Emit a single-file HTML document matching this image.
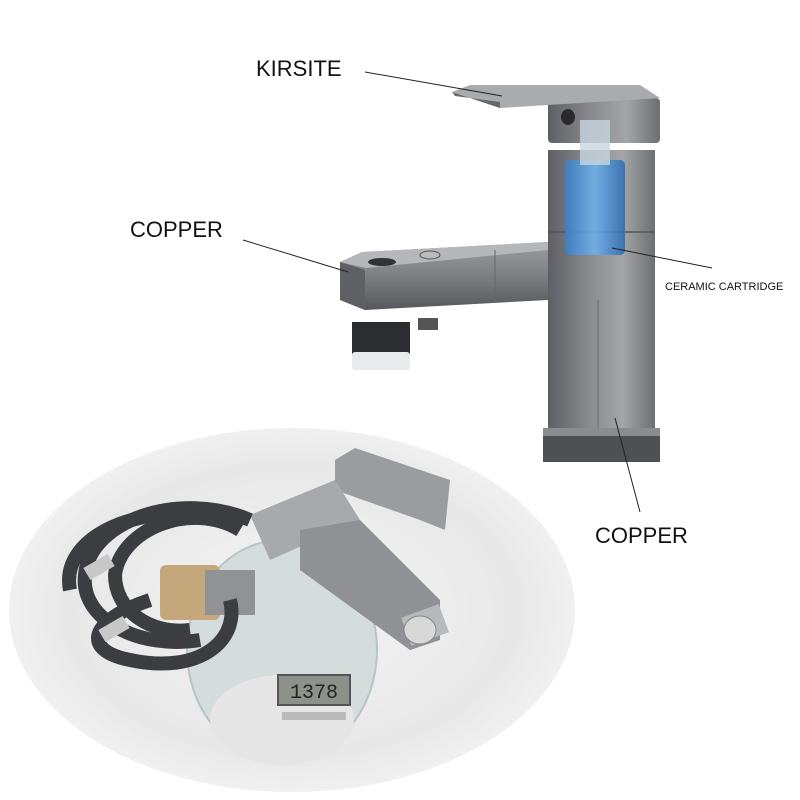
<!DOCTYPE html>
<html><head><meta charset="utf-8"><style>
html,body{margin:0;padding:0;background:#fff;width:800px;height:800px;overflow:hidden}
svg{display:block}
</style></head><body>
<svg width="800" height="800" viewBox="0 0 800 800" xmlns="http://www.w3.org/2000/svg">
<defs>
<linearGradient id="metal" x1="0" x2="1" y1="0" y2="0">
<stop offset="0" stop-color="#5d5f64"/><stop offset="0.4" stop-color="#8a8c90"/><stop offset="0.7" stop-color="#a3a5a8"/><stop offset="1" stop-color="#6c6e72"/></linearGradient>
<linearGradient id="metalv" x1="0" x2="0" y1="0" y2="1">
<stop offset="0" stop-color="#9a9ca0"/><stop offset="0.5" stop-color="#7d7f83"/><stop offset="1" stop-color="#55575b"/></linearGradient>
<radialGradient id="bg" cx="0.5" cy="0.5" r="0.5">
<stop offset="0" stop-color="#f4f4f4"/><stop offset="0.8" stop-color="#e8e8e8"/><stop offset="1" stop-color="#f0f0f0"/></radialGradient>
<linearGradient id="blue" x1="0" x2="1"><stop offset="0" stop-color="#3d7fc4"/><stop offset="0.5" stop-color="#6fb0ea"/><stop offset="1" stop-color="#2f6bb0"/></linearGradient>
</defs>
<ellipse cx="292" cy="610" rx="283" ry="182" fill="url(#bg)"/>
<ellipse cx="282" cy="650" rx="95" ry="110" fill="#d4dcdc" stroke="#b8c4c4" stroke-width="2"/>
<ellipse cx="282" cy="720" rx="72" ry="45" fill="#e6e6e6"/>
<rect x="278" y="675" width="72" height="30" fill="#8c918a" stroke="#555" stroke-width="2"/>
<text x="314" y="698" font-family="Liberation Mono,monospace" font-size="20" fill="#222" text-anchor="middle">1378</text>
<rect x="282" y="712" width="64" height="8" fill="#bbb"/>
<polygon points="335,460 355,448 450,480 445,530 420,520 335,490" fill="#9a9ca0"/>
<polygon points="250,515 335,480 360,520 270,560" fill="#a7a9ac"/>
<polygon points="300,530 360,520 440,600 440,640 410,650 300,570" fill="#8f9195"/>
<rect x="405" y="610" width="40" height="30" fill="#b8b9bb" transform="rotate(-20 425 625)"/>
<ellipse cx="420" cy="630" rx="16" ry="14" fill="#d8d8d8" stroke="#888"/>
<rect x="160" y="565" width="60" height="55" rx="6" fill="#c4a77a"/>
<rect x="205" y="570" width="50" height="45" fill="#909296"/>
<g fill="none" stroke="#3c3d40" stroke-width="14">
<path d="M250,520 C180,490 90,520 85,575 C80,620 140,650 200,640"/>
<path d="M240,530 C190,500 120,530 115,575 C115,610 150,635 190,630"/>
<path d="M150,600 C90,620 80,650 130,660 C200,675 240,640 230,600"/>
<path d="M70,590 C60,540 130,505 210,515"/>
</g>
<rect x="85" y="560" width="28" height="14" fill="#c8c8c8" transform="rotate(-30 99 567)"/>
<rect x="100" y="622" width="28" height="14" fill="#c8c8c8" transform="rotate(-30 114 629)"/>

<rect x="548" y="150" width="107" height="282" fill="url(#metal)"/>
<line x1="548" y1="232" x2="655" y2="232" stroke="#555" stroke-width="1.5"/>
<line x1="598" y1="300" x2="598" y2="430" stroke="#6a6c70" stroke-width="1"/>
<rect x="543" y="428" width="117" height="34" fill="#4e5054"/>
<rect x="543" y="428" width="117" height="8" fill="#8a8c90"/>
<rect x="548" y="98" width="112" height="45" rx="4" fill="url(#metal)"/>
<polygon points="452,92 470,85 640,85 660,98 500,108" fill="#a9abae"/>
<polygon points="452,92 500,108 500,102 455,96" fill="#66686c"/>
<ellipse cx="568" cy="117" rx="7" ry="8" fill="#2a2a2d"/>
<rect x="565" y="160" width="60" height="95" rx="5" fill="url(#blue)" opacity="0.9"/>
<rect x="580" y="120" width="30" height="45" fill="#c8d6e0" opacity="0.8"/>
<polygon points="340,262 362,252 548,242 548,300 365,310 340,300" fill="url(#metalv)"/>
<polygon points="340,262 365,270 365,310 340,300" fill="#5e6064"/>
<polygon points="340,262 362,252 548,242 548,250 366,268" fill="#b5b7ba"/>
<line x1="495" y1="250" x2="495" y2="302" stroke="#666" stroke-width="1"/>
<ellipse cx="382" cy="262" rx="14" ry="4" fill="#333"/>
<ellipse cx="430" cy="255" rx="10" ry="4" fill="#bbb" stroke="#555"/>
<rect x="418" y="318" width="20" height="12" fill="#555"/>
<rect x="352" y="322" width="58" height="36" fill="#2c2d30"/>
<rect x="352" y="352" width="58" height="18" rx="3" fill="#e8eaec"/>

<g stroke="#222" stroke-width="1">
<line x1="365" y1="72" x2="502" y2="96"/>
<line x1="243" y1="240" x2="348" y2="272"/>
<line x1="612" y1="248" x2="712" y2="268"/>
<line x1="615" y1="418" x2="640" y2="512"/>
</g>
<g font-family="Liberation Sans,sans-serif" fill="#111">
<text x="256" y="76" font-size="22">KIRSITE</text>
<text x="130" y="237" font-size="22">COPPER</text>
<text x="665" y="290" font-size="11">CERAMIC CARTRIDGE</text>
<text x="595" y="543" font-size="22">COPPER</text>
</g>
</svg>
</body></html>
